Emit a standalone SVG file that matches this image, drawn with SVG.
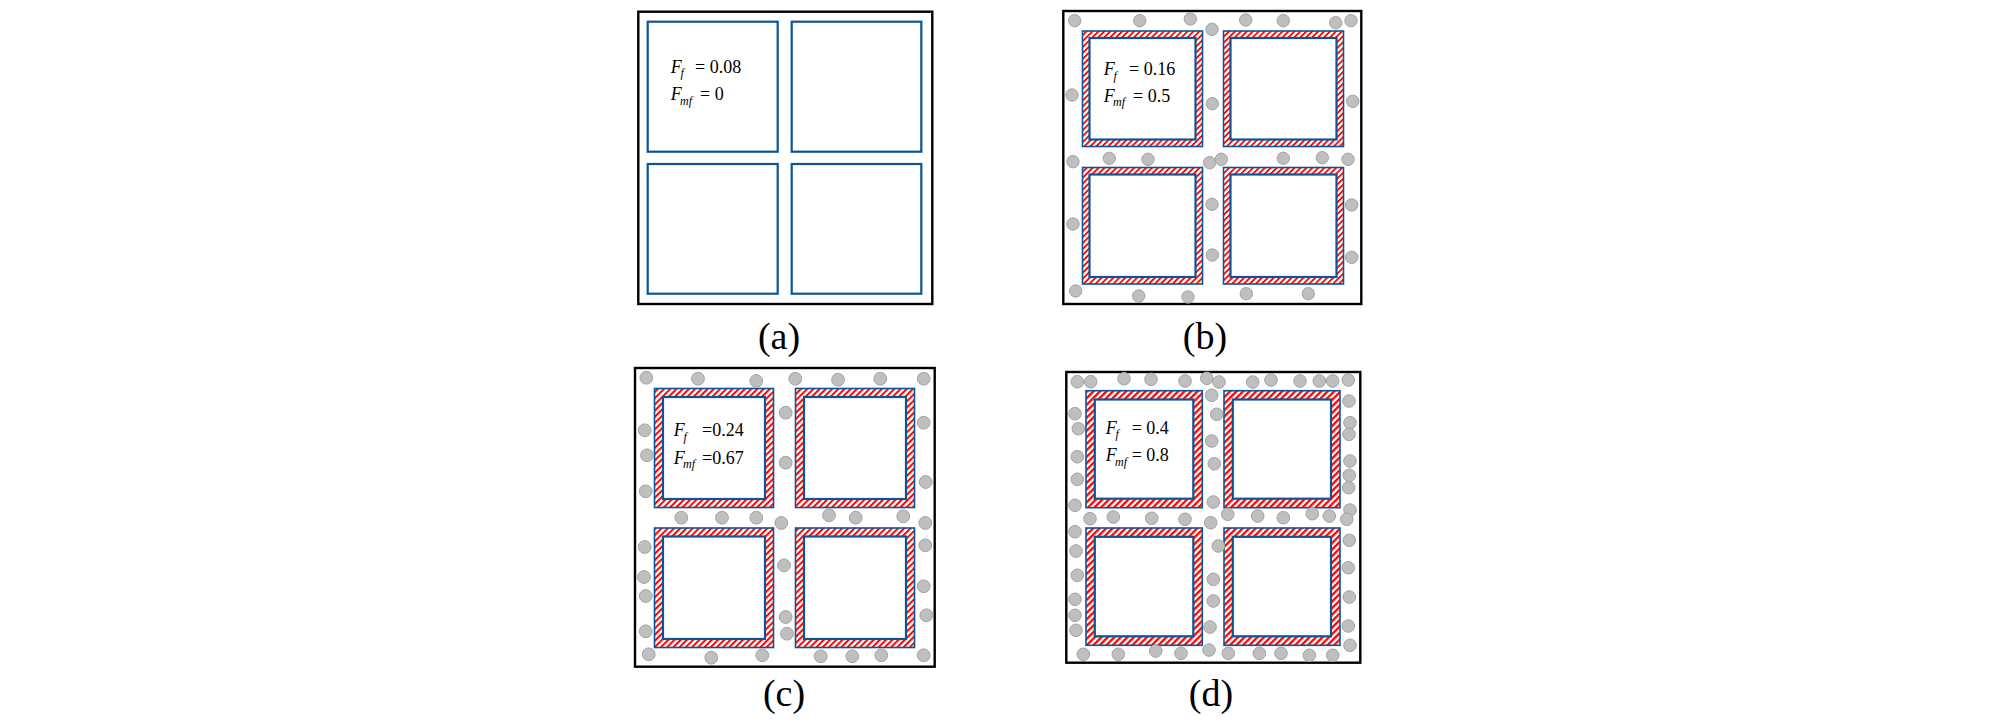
<svg xmlns="http://www.w3.org/2000/svg" width="2008" height="722" viewBox="0 0 2008 722">
<style>
.frame{fill:#ffffff;stroke:#000000;stroke-width:2.4}
.blue{fill:#ffffff;stroke:#0a5597;stroke-width:2.2}
.band{stroke:#0a5597;stroke-width:1.6}
.inner{fill:#ffffff;stroke:#0a5597;stroke-width:2.2}
.p{fill:#bfbfbf;stroke:#a3a3a3;stroke-width:1}
.t{font-family:"Liberation Serif","Times New Roman",serif;font-size:18px;fill:#000}
.i{font-style:italic}
.s{font-style:italic;font-size:12px}
.lab{font-family:"Liberation Serif","Times New Roman",serif;font-size:38px;fill:#000;text-anchor:middle}
</style>
<defs>
<pattern id="h1" width="4.2" height="4.2" patternUnits="userSpaceOnUse" patternTransform="rotate(45)">
<rect width="4.2" height="4.2" fill="#ffffff"/><rect width="1.8" height="4.2" fill="#ff0000"/>
</pattern>
<pattern id="h2" width="4.4" height="4.4" patternUnits="userSpaceOnUse" patternTransform="rotate(45)">
<rect width="4.4" height="4.4" fill="#ffffff"/><rect width="2" height="4.4" fill="#ff0000"/>
</pattern>
<pattern id="h3" width="4.6" height="4.6" patternUnits="userSpaceOnUse" patternTransform="rotate(45)">
<rect width="4.6" height="4.6" fill="#ffffff"/><rect width="2.3" height="4.6" fill="#ff0000"/>
</pattern>
</defs>
<rect width="2008" height="722" fill="#ffffff"/>

<g id="panel-a">
<rect class="frame" x="638.3" y="11.7" width="294" height="292.3"/>
<rect class="blue" x="647.7" y="21.7" width="130" height="130"/>
<rect class="blue" x="791.7" y="21.7" width="129.6" height="130"/>
<rect class="blue" x="647.7" y="164" width="130" height="129.7"/>
<rect class="blue" x="791.7" y="164" width="129.6" height="129.7"/>
<text class="t" y="72.7"><tspan class="i" x="670.7">F</tspan><tspan class="s" x="680.5" dy="4.5">f</tspan><tspan x="695" dy="-4.5">= 0.08</tspan></text>
<text class="t" y="100"><tspan class="i" x="670.7">F</tspan><tspan class="s" x="680" dy="4.5">mf</tspan><tspan x="700" dy="-4.5">= 0</tspan></text>
</g>

<g id="panel-b">
<rect class="frame" x="1063.3" y="11" width="298" height="293"/>
<rect class="band" fill="url(#h1)" x="1082.5" y="31" width="120" height="115.5"/>
<rect class="inner" x="1089.5" y="38" width="106" height="101.5"/>
<rect class="band" fill="url(#h1)" x="1223.5" y="31" width="120" height="115.5"/>
<rect class="inner" x="1230.5" y="38" width="106" height="101.5"/>
<rect class="band" fill="url(#h1)" x="1082.5" y="167.5" width="120" height="116.5"/>
<rect class="inner" x="1089.5" y="174.5" width="106" height="102.5"/>
<rect class="band" fill="url(#h1)" x="1223.5" y="167.5" width="120" height="116.5"/>
<rect class="inner" x="1230.5" y="174.5" width="106" height="102.5"/>
<text class="t" y="75"><tspan class="i" x="1103.7">F</tspan><tspan class="s" x="1113.5" dy="4.5">f</tspan><tspan x="1129" dy="-4.5">= 0.16</tspan></text>
<text class="t" y="101.7"><tspan class="i" x="1103.7">F</tspan><tspan class="s" x="1113" dy="4.5">mf</tspan><tspan x="1133" dy="-4.5">= 0.5</tspan></text>
<g>
<circle class="p" cx="1074.7" cy="20.7" r="6.2"/>
<circle class="p" cx="1139.7" cy="20.7" r="6.2"/>
<circle class="p" cx="1190.3" cy="19" r="6.2"/>
<circle class="p" cx="1212" cy="29.3" r="6.2"/>
<circle class="p" cx="1245.7" cy="20" r="6.2"/>
<circle class="p" cx="1283.3" cy="20.7" r="6.2"/>
<circle class="p" cx="1335.7" cy="22.7" r="6.2"/>
<circle class="p" cx="1351" cy="20.7" r="6.2"/>
<circle class="p" cx="1072" cy="95" r="6.2"/>
<circle class="p" cx="1212.3" cy="103.7" r="6.2"/>
<circle class="p" cx="1352.7" cy="101.3" r="6.2"/>
<circle class="p" cx="1073" cy="161.7" r="6.2"/>
<circle class="p" cx="1109.3" cy="158.3" r="6.2"/>
<circle class="p" cx="1148" cy="159.3" r="6.2"/>
<circle class="p" cx="1209.7" cy="162.7" r="6.2"/>
<circle class="p" cx="1221.3" cy="159.3" r="6.2"/>
<circle class="p" cx="1283.3" cy="158.3" r="6.2"/>
<circle class="p" cx="1322.3" cy="157.7" r="6.2"/>
<circle class="p" cx="1348" cy="159.3" r="6.2"/>
<circle class="p" cx="1212" cy="204.3" r="6.2"/>
<circle class="p" cx="1351.7" cy="205" r="6.2"/>
<circle class="p" cx="1073" cy="224" r="6.2"/>
<circle class="p" cx="1212.3" cy="255" r="6.2"/>
<circle class="p" cx="1351.7" cy="257.3" r="6.2"/>
<circle class="p" cx="1075.7" cy="291" r="6.2"/>
<circle class="p" cx="1138.7" cy="296" r="6.2"/>
<circle class="p" cx="1188" cy="297" r="6.2"/>
<circle class="p" cx="1246.3" cy="293.7" r="6.2"/>
<circle class="p" cx="1308.3" cy="293.7" r="6.2"/>
</g>
</g>

<g id="panel-c">
<rect class="frame" x="635" y="368" width="299.7" height="298.7"/>
<rect class="band" fill="url(#h2)" x="654.5" y="388.5" width="119" height="119"/>
<rect class="inner" x="663" y="397" width="102" height="102"/>
<rect class="band" fill="url(#h2)" x="795.5" y="388.5" width="119" height="119"/>
<rect class="inner" x="804" y="397" width="102" height="102"/>
<rect class="band" fill="url(#h2)" x="654.5" y="528" width="119" height="119.5"/>
<rect class="inner" x="663" y="536.5" width="102" height="102.5"/>
<rect class="band" fill="url(#h2)" x="795.5" y="528" width="119" height="119.5"/>
<rect class="inner" x="804" y="536.5" width="102" height="102.5"/>
<text class="t" y="436"><tspan class="i" x="673.7">F</tspan><tspan class="s" x="683.5" dy="4.5">f</tspan><tspan x="702" dy="-4.5">=0.24</tspan></text>
<text class="t" y="463.7"><tspan class="i" x="673.7">F</tspan><tspan class="s" x="683" dy="4.5">mf</tspan><tspan x="702" dy="-4.5">=0.67</tspan></text>
<g>
<circle class="p" cx="646.3" cy="377.7" r="6.4"/>
<circle class="p" cx="698" cy="378.7" r="6.4"/>
<circle class="p" cx="756.3" cy="381" r="6.4"/>
<circle class="p" cx="795.3" cy="378.7" r="6.4"/>
<circle class="p" cx="838" cy="379.7" r="6.4"/>
<circle class="p" cx="880.3" cy="378.7" r="6.4"/>
<circle class="p" cx="923.7" cy="378.7" r="6.4"/>
<circle class="p" cx="785.7" cy="412.7" r="6.4"/>
<circle class="p" cx="644.7" cy="430.3" r="6.4"/>
<circle class="p" cx="923.7" cy="422.7" r="6.4"/>
<circle class="p" cx="647" cy="455.3" r="6.4"/>
<circle class="p" cx="785.7" cy="462.7" r="6.4"/>
<circle class="p" cx="645.7" cy="491.3" r="6.4"/>
<circle class="p" cx="925.7" cy="482" r="6.4"/>
<circle class="p" cx="681.3" cy="517.7" r="6.4"/>
<circle class="p" cx="722" cy="517.7" r="6.4"/>
<circle class="p" cx="756.3" cy="517.7" r="6.4"/>
<circle class="p" cx="781.3" cy="523" r="6.4"/>
<circle class="p" cx="829" cy="515.3" r="6.4"/>
<circle class="p" cx="855.7" cy="517.7" r="6.4"/>
<circle class="p" cx="903.3" cy="516.3" r="6.4"/>
<circle class="p" cx="925.3" cy="523" r="6.4"/>
<circle class="p" cx="644.7" cy="547" r="6.4"/>
<circle class="p" cx="925.3" cy="545.3" r="6.4"/>
<circle class="p" cx="784" cy="565.3" r="6.4"/>
<circle class="p" cx="644" cy="577" r="6.4"/>
<circle class="p" cx="645.7" cy="596" r="6.4"/>
<circle class="p" cx="923.7" cy="586.3" r="6.4"/>
<circle class="p" cx="785.7" cy="617" r="6.4"/>
<circle class="p" cx="926.3" cy="615.3" r="6.4"/>
<circle class="p" cx="645.7" cy="631.3" r="6.4"/>
<circle class="p" cx="787" cy="633.7" r="6.4"/>
<circle class="p" cx="648.7" cy="654.3" r="6.4"/>
<circle class="p" cx="711.3" cy="657.7" r="6.4"/>
<circle class="p" cx="762.3" cy="655.3" r="6.4"/>
<circle class="p" cx="820.7" cy="656.3" r="6.4"/>
<circle class="p" cx="852.3" cy="656.3" r="6.4"/>
<circle class="p" cx="881.3" cy="655.3" r="6.4"/>
<circle class="p" cx="923.7" cy="655.3" r="6.4"/>
</g>
</g>

<g id="panel-d">
<rect class="frame" x="1066.3" y="372" width="294" height="290.7"/>
<rect class="band" fill="url(#h3)" x="1086" y="390.7" width="116.3" height="117"/>
<rect class="inner" x="1094.8" y="399.5" width="98.5" height="99.2"/>
<rect class="band" fill="url(#h3)" x="1224" y="390.7" width="116" height="117"/>
<rect class="inner" x="1232.8" y="399.5" width="98.2" height="99.2"/>
<rect class="band" fill="url(#h3)" x="1086" y="528" width="116.3" height="117.3"/>
<rect class="inner" x="1094.8" y="536.8" width="98.5" height="99.5"/>
<rect class="band" fill="url(#h3)" x="1224" y="528" width="116" height="117.3"/>
<rect class="inner" x="1232.8" y="536.8" width="98.2" height="99.5"/>
<text class="t" y="433.7"><tspan class="i" x="1105.7">F</tspan><tspan class="s" x="1115.5" dy="4.5">f</tspan><tspan x="1131.7" dy="-4.5">= 0.4</tspan></text>
<text class="t" y="461"><tspan class="i" x="1105.7">F</tspan><tspan class="s" x="1115" dy="4.5">mf</tspan><tspan x="1131.7" dy="-4.5">= 0.8</tspan></text>
<g>
<circle class="p" cx="1077.3" cy="381.7" r="6.3"/>
<circle class="p" cx="1090.7" cy="381.7" r="6.3"/>
<circle class="p" cx="1124" cy="378.7" r="6.3"/>
<circle class="p" cx="1151" cy="379.3" r="6.3"/>
<circle class="p" cx="1185" cy="381" r="6.3"/>
<circle class="p" cx="1206.7" cy="378.3" r="6.3"/>
<circle class="p" cx="1219" cy="382" r="6.3"/>
<circle class="p" cx="1252.7" cy="382" r="6.3"/>
<circle class="p" cx="1271" cy="380" r="6.3"/>
<circle class="p" cx="1300" cy="381" r="6.3"/>
<circle class="p" cx="1319.3" cy="381" r="6.3"/>
<circle class="p" cx="1332.7" cy="381" r="6.3"/>
<circle class="p" cx="1348.3" cy="380" r="6.3"/>
<circle class="p" cx="1211.7" cy="395.3" r="6.3"/>
<circle class="p" cx="1349" cy="401" r="6.3"/>
<circle class="p" cx="1075" cy="413.7" r="6.3"/>
<circle class="p" cx="1216.7" cy="414.3" r="6.3"/>
<circle class="p" cx="1078.3" cy="428.7" r="6.3"/>
<circle class="p" cx="1350" cy="422.7" r="6.3"/>
<circle class="p" cx="1349" cy="434.3" r="6.3"/>
<circle class="p" cx="1211.7" cy="441" r="6.3"/>
<circle class="p" cx="1077.3" cy="456.7" r="6.3"/>
<circle class="p" cx="1214.3" cy="463.7" r="6.3"/>
<circle class="p" cx="1350" cy="461" r="6.3"/>
<circle class="p" cx="1077.3" cy="479.3" r="6.3"/>
<circle class="p" cx="1349.3" cy="475.3" r="6.3"/>
<circle class="p" cx="1348.7" cy="487.7" r="6.3"/>
<circle class="p" cx="1075" cy="505.3" r="6.3"/>
<circle class="p" cx="1213.3" cy="502" r="6.3"/>
<circle class="p" cx="1350" cy="510" r="6.3"/>
<circle class="p" cx="1090" cy="518.7" r="6.3"/>
<circle class="p" cx="1113.3" cy="517" r="6.3"/>
<circle class="p" cx="1151.7" cy="518.3" r="6.3"/>
<circle class="p" cx="1185" cy="519.3" r="6.3"/>
<circle class="p" cx="1210.7" cy="522.7" r="6.3"/>
<circle class="p" cx="1227.7" cy="514.3" r="6.3"/>
<circle class="p" cx="1257.7" cy="516" r="6.3"/>
<circle class="p" cx="1283.3" cy="517.7" r="6.3"/>
<circle class="p" cx="1312.3" cy="513.7" r="6.3"/>
<circle class="p" cx="1329.3" cy="516" r="6.3"/>
<circle class="p" cx="1346.7" cy="519.3" r="6.3"/>
<circle class="p" cx="1075" cy="531.7" r="6.3"/>
<circle class="p" cx="1349.3" cy="540.3" r="6.3"/>
<circle class="p" cx="1218.3" cy="546" r="6.3"/>
<circle class="p" cx="1076" cy="551" r="6.3"/>
<circle class="p" cx="1348.3" cy="567.7" r="6.3"/>
<circle class="p" cx="1077.3" cy="575.3" r="6.3"/>
<circle class="p" cx="1213.3" cy="579.3" r="6.3"/>
<circle class="p" cx="1075" cy="599.3" r="6.3"/>
<circle class="p" cx="1349.3" cy="597" r="6.3"/>
<circle class="p" cx="1213.3" cy="601" r="6.3"/>
<circle class="p" cx="1075" cy="615.3" r="6.3"/>
<circle class="p" cx="1076" cy="630.3" r="6.3"/>
<circle class="p" cx="1210" cy="627" r="6.3"/>
<circle class="p" cx="1348.3" cy="626" r="6.3"/>
<circle class="p" cx="1350" cy="645.3" r="6.3"/>
<circle class="p" cx="1083.3" cy="654.3" r="6.3"/>
<circle class="p" cx="1118.3" cy="654.3" r="6.3"/>
<circle class="p" cx="1155.7" cy="651" r="6.3"/>
<circle class="p" cx="1181" cy="653.3" r="6.3"/>
<circle class="p" cx="1209" cy="650" r="6.3"/>
<circle class="p" cx="1228.3" cy="653.3" r="6.3"/>
<circle class="p" cx="1259.3" cy="653.3" r="6.3"/>
<circle class="p" cx="1281" cy="653.3" r="6.3"/>
<circle class="p" cx="1309.3" cy="655.3" r="6.3"/>
<circle class="p" cx="1332.7" cy="655.3" r="6.3"/>
</g>
</g>

<g id="labels">
<text class="lab" x="779" y="349">(a)</text>
<text class="lab" x="1205" y="349">(b)</text>
<text class="lab" x="784" y="706">(c)</text>
<text class="lab" x="1211" y="706">(d)</text>
</g>
<g id="connectors"/>
</svg>
